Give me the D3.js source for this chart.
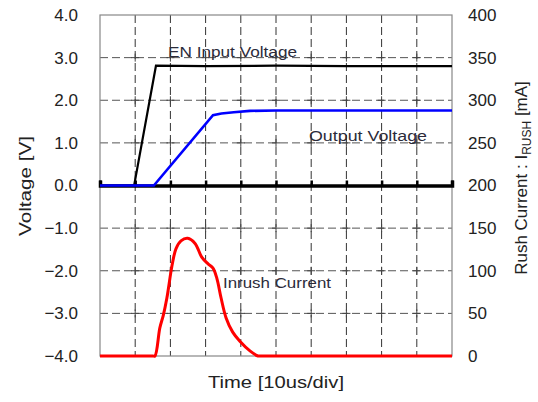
<!DOCTYPE html>
<html><head><meta charset="utf-8">
<script src="https://cdn.jsdelivr.net/npm/d3@7/dist/d3.min.js"></script>
<style>body{margin:0;background:#fff}svg{display:block}</style>
</head><body><svg id="c" width="538" height="402"></svg>
<script>
// ---- data ----
const timeTicks = [0,10,20,30,40,50,60,70,80,90,100];          // us
const voltTicks = [4,3,2,1,0,-1,-2,-3,-4];
const voltTickLabels = ["4.0","3.0","2.0","1.0","0.0","\u22121.0","\u22122.0","\u22123.0","\u22124.0"];
const currTicks = [400,350,300,250,200,150,100,50,0];
const currTickLabels = ["400","350","300","250","200","150","100","50","0"];

const enTime = [0, 9.7, 15.9, 30, 50, 70, 100];
const enVolt = [0, 0, 2.81, 2.80, 2.81, 2.80, 2.80];

const outTime = [0, 15.3, 32.1, 34.5, 38, 42.6, 50, 100];
const outVolt = [0, 0, 1.65, 1.69, 1.72, 1.75, 1.76, 1.76];

const rushTime = [0, 15.0, 15.6, 17.0, 18.0, 19.0, 20.5, 21.6, 23.0, 24.9, 27.0, 28.9, 30.7, 32.1, 33.2, 34.4, 35.8, 37.7, 39.8, 42.6, 44.9, 45.6, 100];
const rushCurr = [0, 0, 0, 33, 48, 68, 107, 126, 135, 138, 132, 116, 108, 103, 91, 68, 45, 28, 17, 6, 0, 0, 0];

// ---- layout ----
const L = 100, R = 452, T = 15, B = 356;
const svg = d3.select("#c");
const x = d3.scaleLinear().domain([0,100]).range([L,R]);
const yV = d3.scaleLinear().domain([-4,4]).range([B,T]);
const yI = d3.scaleLinear().domain([0,400]).range([B,T]);
const font = "'Liberation Sans', Arial, sans-serif";

// grid
const g = svg.append("g");
timeTicks.filter(t => t > 0 && t < 100).forEach(t => {
  g.append("line").attr("x1", x(t)).attr("x2", x(t)).attr("y1", T).attr("y2", B)
   .attr("stroke", "#333").attr("stroke-width", 1).attr("stroke-dasharray", "8,4");
});
voltTicks.filter(v => v !== 0 && v > -4 && v < 4).forEach(v => {
  g.append("line").attr("x1", L).attr("x2", R).attr("y1", yV(v)).attr("y2", yV(v))
   .attr("stroke", "#555").attr("stroke-width", 1).attr("stroke-dasharray", "8,4");
  timeTicks.filter(t => t > 0 && t < 100).forEach(t => {
    g.append("line").attr("x1", x(t)-4).attr("x2", x(t)+4).attr("y1", yV(v)).attr("y2", yV(v))
     .attr("stroke", "#444").attr("stroke-width", 1);
    g.append("line").attr("x1", x(t)).attr("x2", x(t)).attr("y1", yV(v)-4).attr("y2", yV(v)+4)
     .attr("stroke", "#444").attr("stroke-width", 1);
  });
});

// frame
svg.append("rect").attr("x", L).attr("y", T).attr("width", R-L).attr("height", B-T)
  .attr("fill", "none").attr("stroke", "#888").attr("stroke-width", 1.2);

// zero axis with inward ticks
const xAxis = d3.axisTop(x).tickValues(timeTicks).tickSize(5).tickFormat("");
const ax = svg.append("g").attr("transform", `translate(0,${yV(0)})`).call(xAxis);
ax.select(".domain").attr("stroke", "#000").attr("stroke-width", 3.5);
ax.selectAll(".tick line").attr("stroke", "#000").attr("stroke-width", 2.5);

// left axis labels
const leftAx = d3.axisLeft(yV).tickValues(voltTicks).tickSize(0).tickPadding(22)
  .tickFormat((d,i) => voltTickLabels[i]);
const la = svg.append("g").attr("transform", `translate(${L},0)`).call(leftAx);
la.select(".domain").remove();
la.selectAll("text").attr("font-family", font).attr("font-size", 17).attr("fill", "#222");

// right axis labels
const rightAx = d3.axisRight(yI).tickValues(currTicks).tickSize(0).tickPadding(16)
  .tickFormat((d,i) => currTickLabels[i]);
const ra = svg.append("g").attr("transform", `translate(${R},0)`).call(rightAx);
ra.select(".domain").remove();
ra.selectAll("text").attr("font-family", font).attr("font-size", 17).attr("fill", "#222");

// lines
const lineV = d3.line().x(d => x(d[0])).y(d => yV(d[1]));
const lineI = d3.line().x(d => x(d[0])).y(d => yI(d[1])).curve(d3.curveCatmullRom.alpha(0.5));

svg.append("path").datum(enTime.map((t,i) => [t, enVolt[i]]))
  .attr("d", lineV).attr("fill", "none").attr("stroke", "#000").attr("stroke-width", 2.2);
svg.append("path").datum(rushTime.map((t,i) => [t, rushCurr[i]]))
  .attr("d", lineI).attr("fill", "none").attr("stroke", "#ff0000").attr("stroke-width", 3);
svg.append("path").datum(outTime.map((t,i) => [t, outVolt[i]]))
  .attr("d", lineV).attr("fill", "none").attr("stroke", "#0000ff").attr("stroke-width", 2.6);

// annotations
const ann = (txt, xx, yy, len) => svg.append("text").attr("x", xx).attr("y", yy)
  .attr("font-family", font).attr("font-size", 14).attr("fill", "#2b2b3a")
  .attr("textLength", len).attr("lengthAdjust", "spacingAndGlyphs").text(txt);
ann("EN Input Voltage", 168, 57, 129);
ann("Output Voltage", 309, 141, 118);
ann("Inrush Current", 223, 288, 108);

// axis titles
svg.append("text").attr("x", 276).attr("y", 388).attr("text-anchor", "middle")
  .attr("font-family", font).attr("font-size", 17).attr("fill", "#222")
  .attr("textLength", 136).attr("lengthAdjust", "spacingAndGlyphs").text("Time [10us/div]");
svg.append("text").attr("transform", "translate(31,186) rotate(-90)").attr("text-anchor", "middle")
  .attr("font-family", font).attr("font-size", 17).attr("fill", "#222")
  .attr("textLength", 100).attr("lengthAdjust", "spacingAndGlyphs").text("Voltage [V]");
const rt = svg.append("text").attr("transform", "translate(527,178) rotate(-90)").attr("text-anchor", "middle")
  .attr("font-family", font).attr("font-size", 17).attr("fill", "#222");
rt.append("tspan").text("Rush Current : I");
rt.append("tspan").attr("font-size", 12).attr("dy", 4).text("RUSH");
rt.append("tspan").attr("dy", -4).text(" [mA]");
</script></body></html>
